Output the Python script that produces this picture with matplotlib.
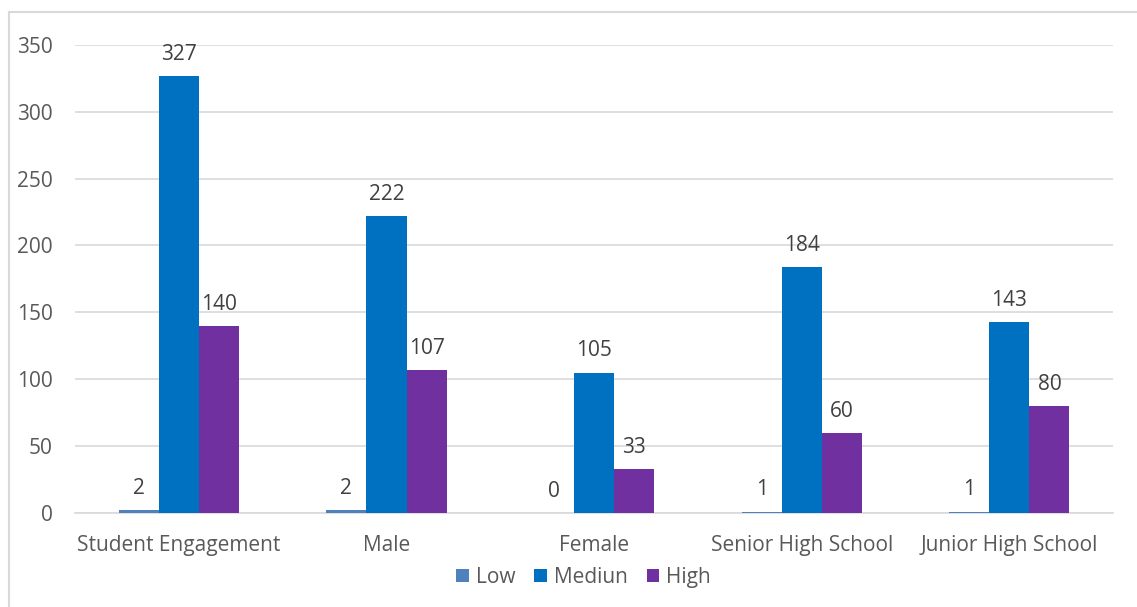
import matplotlib.pyplot as plt
import numpy as np
from matplotlib.lines import Line2D

plt.rcParams['font.family'] = ['Open Sans', 'DejaVu Sans']

categories = ["Student Engagement", "Male", "Female", "Senior High School", "Junior High School"]
low = [2, 2, 0, 1, 1]
medium = [327, 222, 105, 184, 143]
high = [140, 107, 33, 60, 80]
series_names = ["Low", "Mediun", "High"]
colors = ["#4F81BD", "#0070C0", "#7030A0"]

fig = plt.figure(figsize=(11.37, 6.07), dpi=100)
ax = fig.add_axes([0.066, 0.155, 0.913, 0.771])

x = np.arange(len(categories))
w = 0.193
for i, (vals, name, c) in enumerate(zip([low, medium, high], series_names, colors)):
    pos = x + (i - 1) * w
    ax.bar(pos, vals, w, color=c, label=name, zorder=3)
    for px, v in zip(pos, vals):
        ax.annotate(str(v), (px, v), xytext=(0, 8), textcoords="offset points",
                    ha="center", va="bottom", fontsize=15, color="#404040")

ax.set_xlim(-0.5, len(categories) - 0.5)
ax.set_ylim(0, 350)
ax.set_yticks(np.arange(0, 351, 50))
ax.set_xticks(x)
ax.set_xticklabels(categories)
ax.grid(axis="y", color="#D9D9D9", linewidth=1.2, zorder=0)
for s in ["top", "right", "left"]:
    ax.spines[s].set_visible(False)
ax.spines["bottom"].set_color("#D9D9D9")
ax.spines["bottom"].set_linewidth(1.2)
ax.tick_params(axis="both", length=0, labelsize=15, colors="#595959")
ax.tick_params(axis="y", pad=16)
ax.tick_params(axis="x", pad=16)

ax.legend(loc="center", bbox_to_anchor=(0.49, -0.137), ncol=3, frameon=False,
          fontsize=15, labelcolor="#595959", handlelength=0.6, handleheight=0.6,
          handletextpad=0.35, columnspacing=0.9)

# chart border (left and top)
fig.add_artist(Line2D([0.008, 0.008], [0.0, 0.98], transform=fig.transFigure, color="#D9D9D9", linewidth=1.5))
fig.add_artist(Line2D([0.008, 1.0], [0.98, 0.98], transform=fig.transFigure, color="#D9D9D9", linewidth=1.5))

fig.savefig("out.png", dpi=100)
